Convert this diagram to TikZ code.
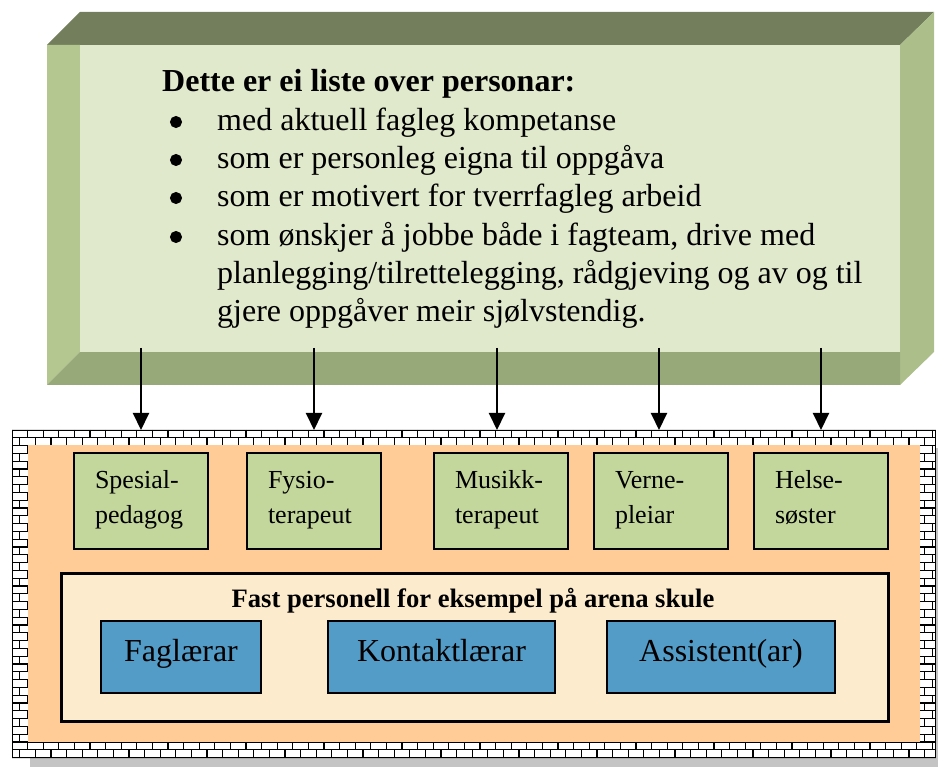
\documentclass[tikz,border=0pt]{standalone}
\usepackage{fontspec}
\setmainfont{Liberation Serif}
\usetikzlibrary{arrows.meta}
\definecolor{topface}{HTML}{737F5C}
\definecolor{leftface}{HTML}{B4C790}
\definecolor{rightface}{HTML}{ACBE8A}
\definecolor{bottomface}{HTML}{98A979}
\definecolor{frontface}{HTML}{E1E9CD}
\definecolor{wallorange}{HTML}{FFCB96}
\definecolor{specgreen}{HTML}{C3D69B}
\definecolor{cream}{HTML}{FCEBCC}
\definecolor{staffblue}{HTML}{539CC8}
\definecolor{shadowgray}{HTML}{C4C4C4}
\tikzset{
  txt/.style={anchor=base west, inner sep=0pt, font=\fontsize{32}{38}\selectfont},
  bul/.style={circle, fill=black, draw=black, line width=1pt, inner sep=0pt, minimum size=11pt},
  specbox/.style={draw=black, line width=2pt, fill=specgreen, anchor=north west,
     minimum width=134pt, minimum height=96pt, text width=92pt, align=left,
     inner xsep=21pt, inner ysep=0pt, text height=16pt, text depth=41pt,
     font=\fontsize{26}{35}\selectfont},
  staffbox/.style={draw=black, line width=2pt, fill=staffblue, anchor=north west,
     minimum height=72pt, inner sep=0pt, text height=22pt, text depth=14pt,
     font=\fontsize{32}{38}\selectfont},
  mortar/.style={draw=black, line width=1.2pt},
  downarrow/.style={line width=2pt, -{Triangle[length=17pt,width=16pt]}}
}
\begin{document}
\begin{tikzpicture}[x=1pt,y=-1pt]
\useasboundingbox (0,0) rectangle (938,767);
% ---- bevelled top box
\fill[topface] (47,45) -- (80,12) -- (934,12) -- (900,45) -- cycle;
\fill[leftface] (47,45) -- (80,45) -- (80,352) -- (47,385) -- cycle;
\fill[rightface] (900,45) -- (934,12) -- (934,352) -- (900,385) -- cycle;
\fill[bottomface] (47,385) -- (80,352) -- (900,352) -- (900,385) -- cycle;
\node[fill=frontface, anchor=north west, minimum width=820pt, minimum height=307pt, inner sep=0pt] (front) at (80,45) {};
\node[txt, font=\fontsize{32}{38}\selectfont\bfseries] (title) at (162,92) {Dette er ei liste over personar:};
\node[bul] (d1) at (176,122) {};
\node[txt] (l1) at (217,131) {med aktuell fagleg kompetanse};
\node[bul] (d2) at (176,160) {};
\node[txt] (l2) at (217,169) {som er personleg eigna til oppgåva};
\node[bul] (d3) at (176,198) {};
\node[txt] (l3) at (217,207) {som er motivert for tverrfagleg arbeid};
\node[bul] (d4) at (176,237) {};
\node[txt] (l4) at (217,246) {som ønskjer å jobbe både i fagteam, drive med};
\node[txt] (l5) at (217,284) {planlegging/tilrettelegging, rådgjeving og av og til};
\node[txt] (l6) at (217,322) {gjere oppgåver meir sjølvstendig.};
% ---- shadow of the wall
\fill[shadowgray] (30,448) rectangle (950,775);
% ---- brick wall frame
\begin{scope}[even odd rule]
\clip (12,430) rectangle (936,758) (28,445) rectangle (920,742);
\fill[white] (12,430) rectangle (936,758);
\foreach \r in {0,...,41}{
  \pgfmathsetmacro{\ya}{430+\r*7.8}
  \pgfmathsetmacro{\off}{mod(\r,2)*7.8}
  \draw[mortar] (12,\ya) -- (936,\ya);
  \foreach \k in {-1,...,60}{
    \draw[mortar] ({12+\off+\k*15.6},\ya) -- ++(0,7.8);
  }
}
\draw[mortar] (12,758) -- (936,758);
\draw[mortar] (12,430) -- (12,758);
\draw[mortar] (936,430) -- (936,758);
\end{scope}
\node[fill=wallorange, anchor=north west, minimum width=892pt, minimum height=297pt, inner sep=0pt] (wall) at (28,445) {};
% ---- specialist boxes
\node[specbox] (s1) at (73,452) {Spesial-\\pedagog};
\node[specbox] (s2) at (246,452) {Fysio-\\terapeut};
\node[specbox] (s3) at (433,452) {Musikk-\\terapeut};
\node[specbox] (s4) at (593,452) {Verne-\\pleiar};
\node[specbox] (s5) at (753,452) {Helse-\\søster};
% ---- fixed staff
\node[draw=black, line width=2.5pt, fill=cream, anchor=north west, minimum width=827pt, minimum height=148pt, inner sep=0pt] (fast) at (60,572) {};
\node[anchor=base, inner sep=0pt, font=\fontsize{26.6}{30}\selectfont\bfseries] (fasttitle) at (473,607) {Fast personell for eksempel på arena skule};
\node[staffbox, minimum width=160pt] (f1) at (100,620) {Faglærar};
\node[staffbox, minimum width=227pt] (f2) at (327,620) {Kontaktlærar};
\node[staffbox, minimum width=228pt] (f3) at (606,620) {Assistent(ar)};
% ---- arrows
\foreach \i/\x in {1/141,2/314,3/497,4/659,5/821}{
  \coordinate (a\i) at (\x,348);
  \coordinate (t\i) at (\x,430);
  \draw[downarrow] (a\i) -- (t\i);
}
\end{tikzpicture}
\end{document}
